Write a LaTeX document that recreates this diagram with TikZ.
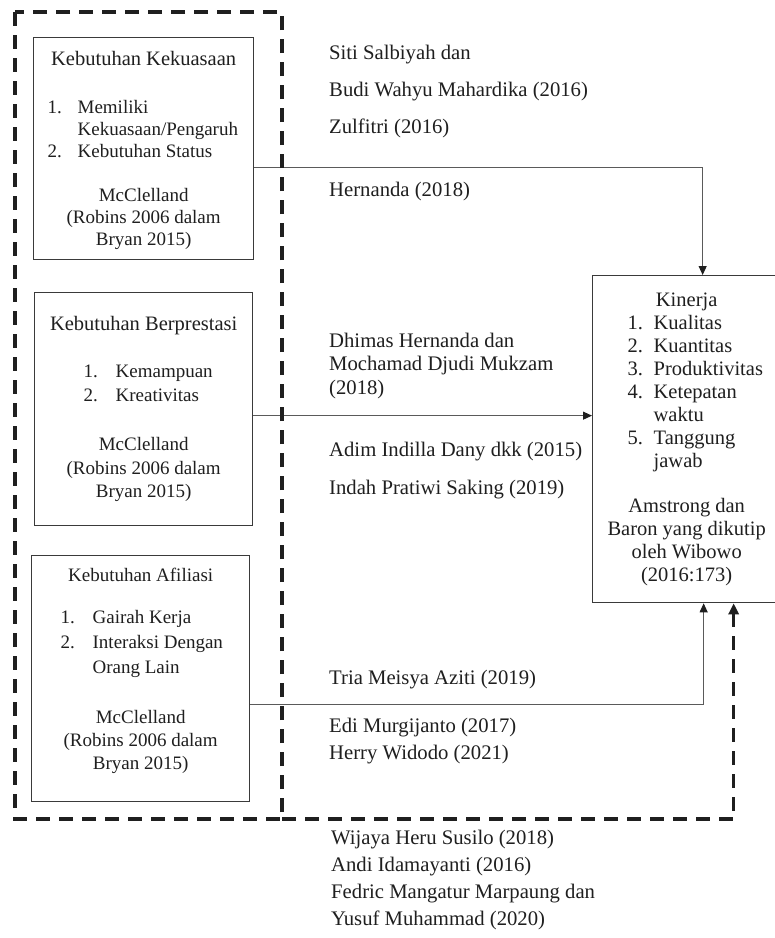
\documentclass[tikz,border=0pt]{standalone}
\usepackage{fontspec}
\setmainfont{Liberation Serif}
\usepackage{tikz}
\usetikzlibrary{arrows.meta,positioning}
\definecolor{ink}{HTML}{1F1F1F}
\definecolor{frame}{HTML}{3A3A3A}
\definecolor{wire}{HTML}{5A5A5A}
\newcommand{\listline}[4]{\makebox[#1][l]{\makebox[#2][l]{#3}#4}}
\tikzset{
  box/.style={draw=frame,line width=1.3pt,align=center,anchor=north west,inner sep=0pt,
    font=\fontsize{19}{22}\selectfont,text=ink},
  kin/.style={box,font=\fontsize{20.5}{23}\selectfont},
  ref/.style={anchor=west,align=left,inner sep=0pt,font=\fontsize{20.7}{23.5}\selectfont,text=ink},
  flow/.style={-{Triangle[length=9pt,width=8pt,color=ink]},line width=1pt,draw=wire},
  grp/.style={draw=ink,line width=3.5pt,dash pattern=on 14pt off 9pt},
  grpflow/.style={grp,-{Triangle[length=11pt,width=10pt]}}
}
\begin{document}
\begin{tikzpicture}[x=1pt,y=-1pt]
  \useasboundingbox[fill=white] (0,0) rectangle (775,938);
  % motive boxes
  \node[box,minimum width=220pt,minimum height=222pt,text depth=0pt] (b1) at (33,37)
    {{\fontsize{20.5}{22}\selectfont Kebutuhan Kekuasaan}\\[26pt]
     \listline{192pt}{30pt}{1.}{Memiliki}\\
     \listline{192pt}{30pt}{}{Kekuasaan/Pengaruh}\\
     \listline{192pt}{30pt}{2.}{Kebutuhan Status}\\[22pt]
     McClelland\\(Robins 2006 dalam\\Bryan 2015)};
  \node[box,minimum width=218pt,minimum height=233pt,
    font=\fontsize{19}{23.5}\selectfont] (b2) at (34,292)
    {{\fontsize{20.5}{23}\selectfont Kebutuhan Berprestasi}\\[24pt]
     \listline{120pt}{32pt}{1.}{Kemampuan}\\
     \listline{120pt}{32pt}{2.}{Kreativitas}\\[26pt]
     McClelland\\(Robins 2006 dalam\\Bryan 2015)};
  \node[box,minimum width=218pt,minimum height=246pt,text depth=19pt,
    font=\fontsize{19}{23}\selectfont] (b3) at (31,555)
    {Kebutuhan Afiliasi\\[19pt]
     \listline{160pt}{32pt}{1.}{Gairah Kerja}\\[2pt]
     \listline{160pt}{32pt}{2.}{Interaksi Dengan}\\[2pt]
     \listline{160pt}{32pt}{}{Orang Lain}\\[27pt]
     McClelland\\(Robins 2006 dalam\\Bryan 2015)};
  % performance box
  \node[kin,minimum width=188pt,minimum height=327pt] (kin) at (592,275)
    {Kinerja\\
     \listline{118pt}{26pt}{1.}{Kualitas}\\
     \listline{118pt}{26pt}{2.}{Kuantitas}\\
     \listline{118pt}{26pt}{3.}{Produktivitas}\\
     \listline{118pt}{26pt}{4.}{Ketepatan}\\
     \listline{118pt}{26pt}{}{waktu}\\
     \listline{118pt}{26pt}{5.}{Tanggung}\\
     \listline{118pt}{26pt}{}{jawab}\\[22pt]
     Amstrong dan\\Baron yang dikutip\\oleh Wibowo\\(2016:173)};
  % studies
  \node[ref] (r1) at (329,92) {Siti Salbiyah dan\\[13.5pt]Budi Wahyu Mahardika (2016)\\[13.5pt]Zulfitri (2016)};
  \node[ref] (r2) at (329,192) {Hernanda (2018)};
  \node[ref] (r3) at (329,366) {Dhimas Hernanda dan\\Mochamad Djudi Mukzam\\(2018)};
  \node[ref] (r4) at (329,471) {Adim Indilla Dany dkk (2015)\\[14.5pt]Indah Pratiwi Saking (2019)};
  \node[ref] (r5) at (329,680) {Tria Meisya Aziti (2019)};
  \node[ref] (r6) at (329,741.5) {Edi Murgijanto (2017)\\[3.5pt]Herry Widodo (2021)};
  \node[ref] (r7) at (331,880.5) {Wijaya Heru Susilo (2018)\\[3.5pt]Andi Idamayanti (2016)\\[3.5pt]Fedric Mangatur Marpaung dan\\[3.5pt]Yusuf Muhammad (2020)};
  % partial arrows
  \draw[flow] ([yshift=-19pt]b1.east) -| ([xshift=16pt]kin.north);
  \draw[flow] ([yshift=-6.5pt]b2.east) coordinate (a2) -- (a2 -| kin.west);
  \draw[flow] ([yshift=-26pt]b3.east) -| ([xshift=17pt]kin.south);
  % simultaneous (dashed group)
  \coordinate (gtl) at (15,12);
  \coordinate (gbr) at (282,819);
  \draw[grp] (gtl) rectangle (gbr);
  \draw[grpflow] (gbr) -| ([xshift=47pt]kin.south);
\end{tikzpicture}
\end{document}
